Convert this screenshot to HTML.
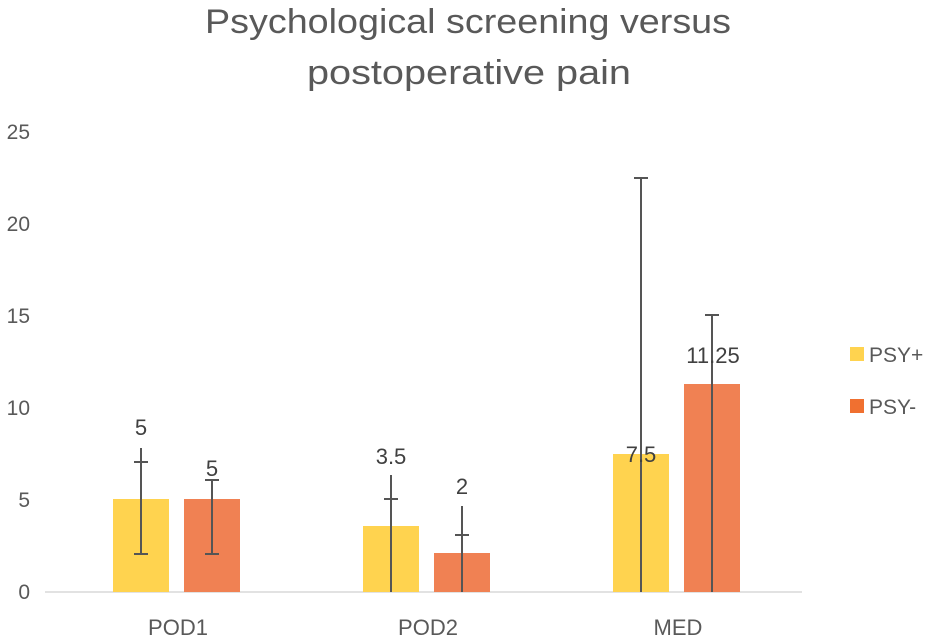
<!DOCTYPE html>
<html><head><meta charset="utf-8"><style>body{margin:0;background:#fff}</style></head><body>
<svg width="925" height="635" xmlns="http://www.w3.org/2000/svg" font-family="Liberation Sans, sans-serif">
<rect width="925" height="635" fill="#fff"/>
<text x="468" y="33" font-size="34" fill="#595959" text-anchor="middle" textLength="526" lengthAdjust="spacingAndGlyphs">Psychological screening versus</text>
<text x="469" y="84" font-size="34" fill="#595959" text-anchor="middle" textLength="324" lengthAdjust="spacingAndGlyphs">postoperative pain</text>
<g font-size="21" fill="#595959" text-anchor="end">
<text x="30" y="599">0</text><text x="30" y="507">5</text><text x="30" y="415">10</text>
<text x="30" y="323">15</text><text x="30" y="231">20</text><text x="30" y="139">25</text>
</g>
<line x1="45" y1="592" x2="802" y2="592" stroke="#d9d9d9" stroke-width="1.5"/>
<g fill="#ffd34f">
<rect x="113" y="499" width="56" height="93"/><rect x="363" y="526" width="56" height="66"/><rect x="613" y="454" width="56" height="138"/>
</g>
<g fill="#f08153">
<rect x="184" y="499" width="56" height="93"/><rect x="434" y="553" width="56" height="39"/><rect x="684" y="384" width="56" height="208"/>
</g>
<g stroke="#555" stroke-width="2">
<line x1="141" y1="448" x2="141" y2="554"/><line x1="134" y1="462" x2="148" y2="462"/><line x1="134" y1="554" x2="148" y2="554"/>
<line x1="212" y1="480" x2="212" y2="554"/><line x1="205" y1="480" x2="219" y2="480"/><line x1="205" y1="554" x2="219" y2="554"/>
<line x1="391" y1="475" x2="391" y2="592"/><line x1="384" y1="499" x2="398" y2="499"/>
<line x1="462" y1="506" x2="462" y2="592"/><line x1="455" y1="535" x2="469" y2="535"/>
<line x1="641" y1="178" x2="641" y2="592"/><line x1="634" y1="178" x2="648" y2="178"/>
<line x1="712" y1="315" x2="712" y2="592"/><line x1="705" y1="315" x2="719" y2="315"/>
</g>
<g font-size="22" fill="#404040" text-anchor="middle">
<text x="141" y="435">5</text><text x="212" y="476">5</text><text x="391" y="464">3.5</text>
<text x="462" y="494">2</text><text x="641" y="462">7.5</text><text x="713" y="363">11.25</text>
</g>
<g font-size="22" fill="#595959" text-anchor="middle">
<text x="178" y="635">POD1</text><text x="428" y="635">POD2</text><text x="678" y="635">MED</text>
</g>
<rect x="850" y="347" width="14" height="14" fill="#ffd34f"/>
<rect x="850" y="399" width="14" height="14" fill="#f07030"/>
<g font-size="21" fill="#595959"><text x="869" y="362">PSY+</text><text x="869" y="414">PSY-</text></g>
</svg>
</body></html>
